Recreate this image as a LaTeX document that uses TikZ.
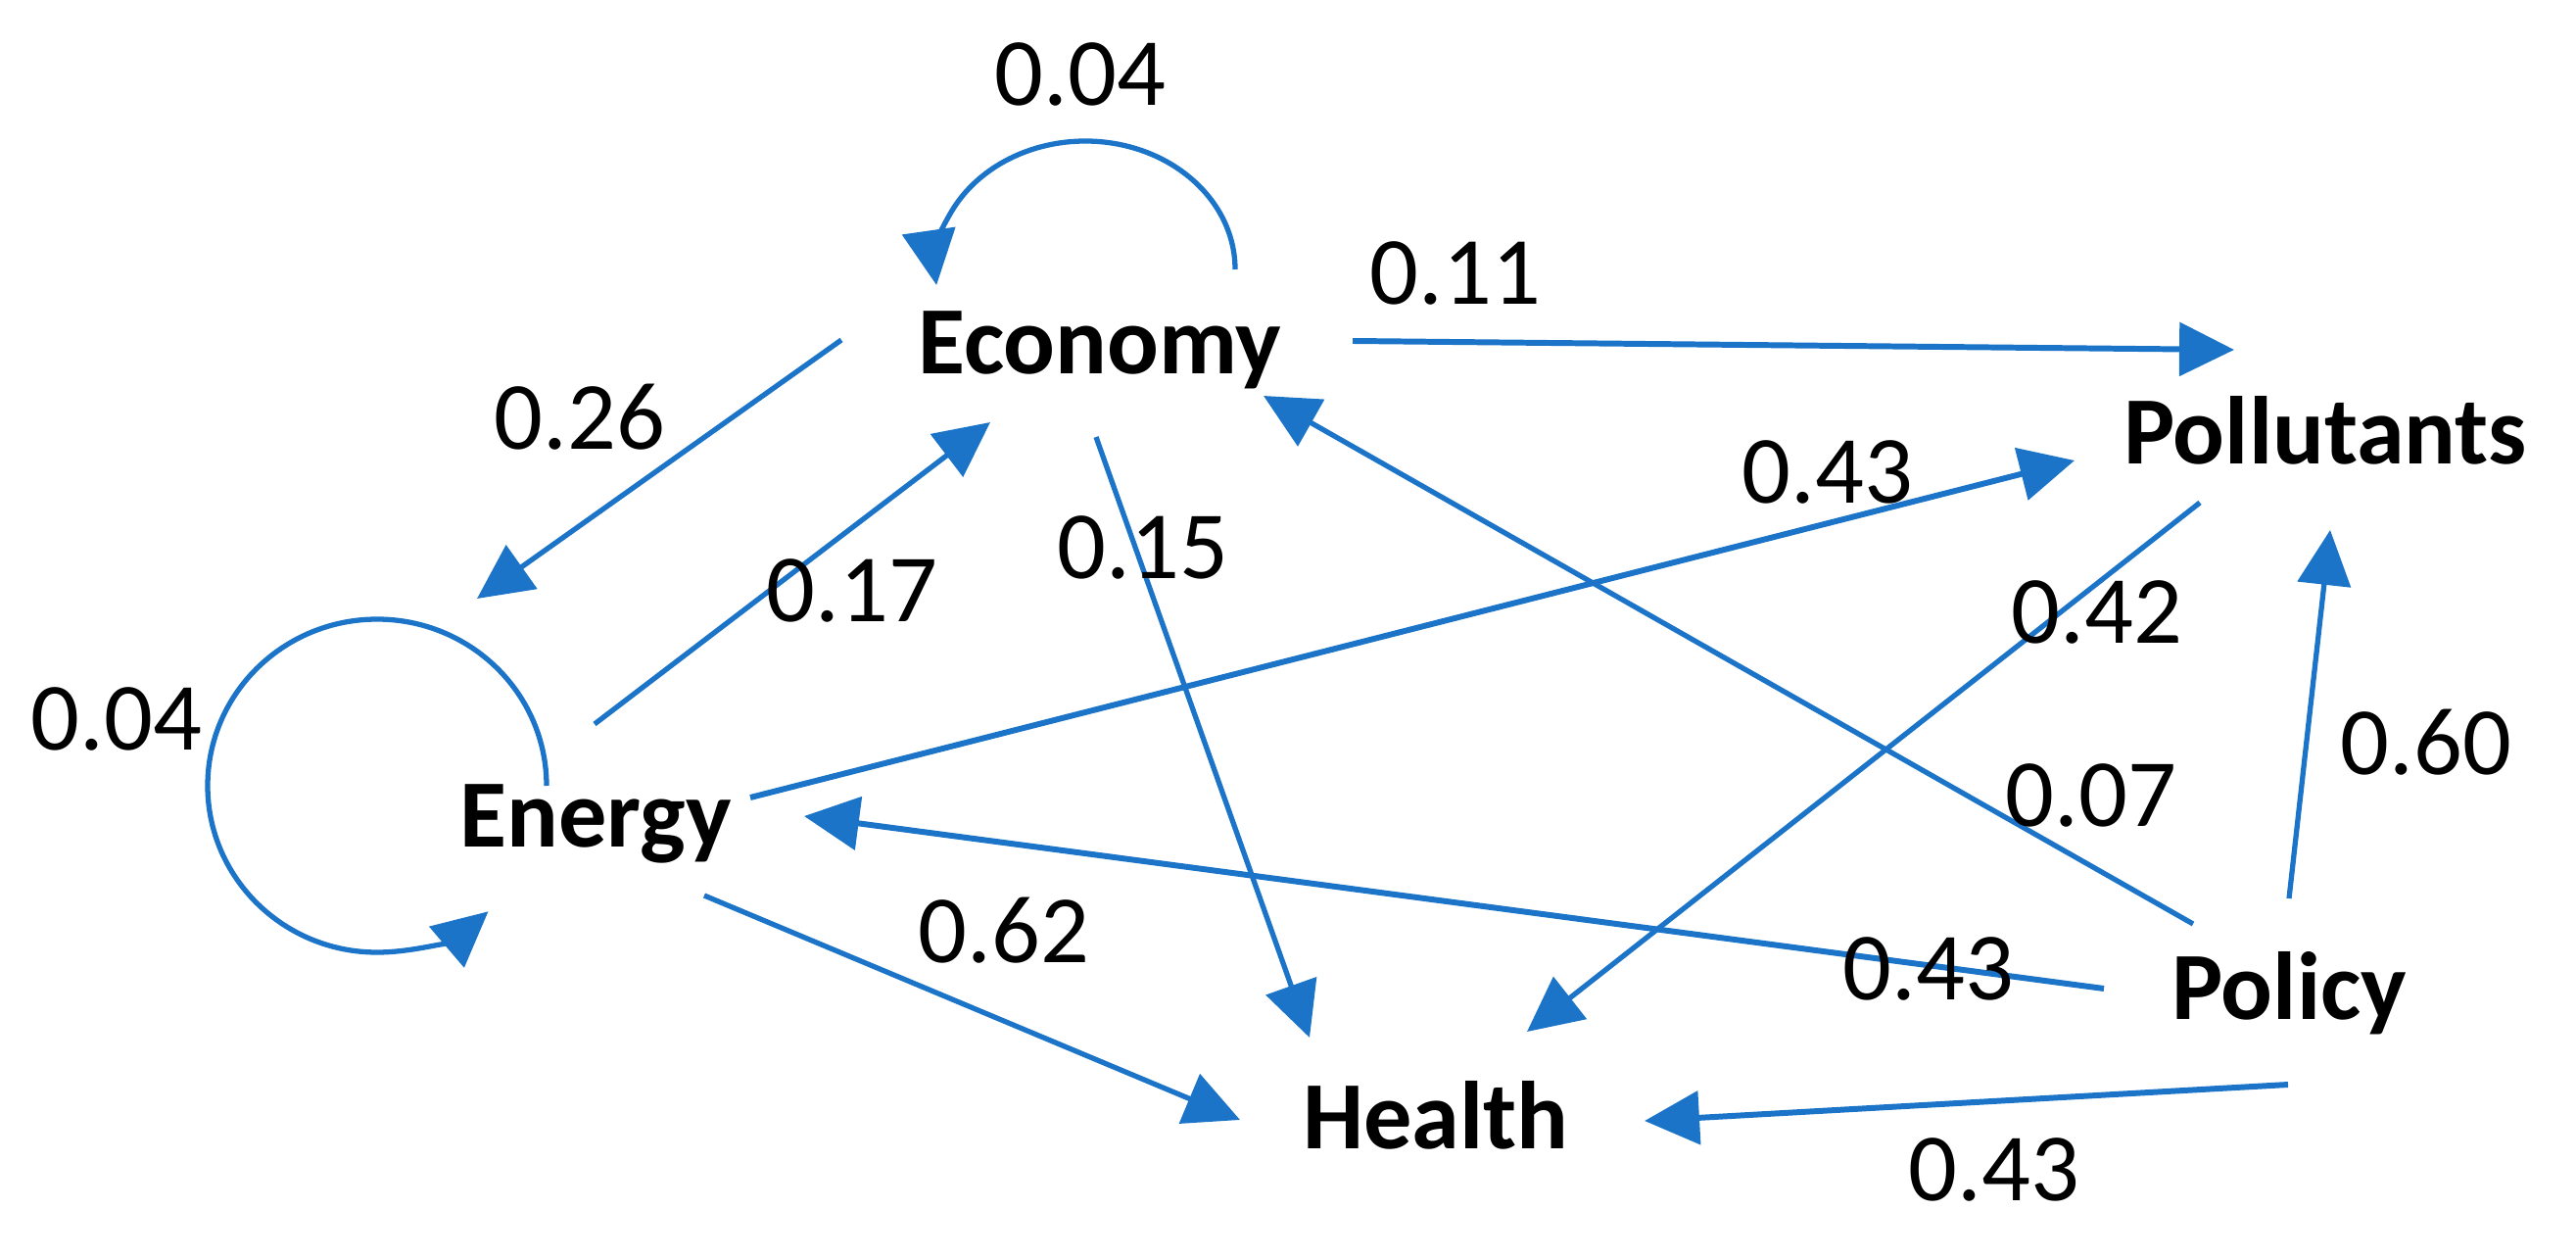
\documentclass[tikz,border=0pt]{standalone}
\usepackage{fontspec}
\setmainfont{Carlito}
\usepackage{xcolor}
\usepackage{tikz}
\usetikzlibrary{arrows.meta}

\definecolor{linkblue}{RGB}{27,116,200}

\tikzset{
  factor/.style={font=\bfseries\fontsize{28}{34}\selectfont, anchor=base, inner sep=0pt},
  coef/.style={font=\fontsize{28}{34}\selectfont, inner sep=0pt},
  link/.style={draw=linkblue, line width=1.5pt, -{Triangle[length=0.56cm,width=0.54cm]}},
  heavylink/.style={link, line width=1.7pt}
}

\begin{document}
\begin{tikzpicture}
                \useasboundingbox (0,0) rectangle (26.30,12.84);

                %% factors
                \node[factor] (eco) at (11.23,9.02) {Economy};
                \node[factor] (pol) at (23.74,8.10) {Pollutants};
                \node[factor] (ene) at (6.08,4.20)  {Energy};
                \node[factor] (hea) at (14.66,1.12) {Health};
                \node[factor] (pcy) at (23.37,2.44) {Policy};

                %Economy
                \draw[link] ([shift={(1.38,1.07)}]eco.base) arc[start angle=0, end angle=187, x radius=1.53cm, y radius=1.31cm];
                \node[coef] (c1) at (11.03,12.08) {0.04};
                \draw[link] ([shift={(-2.64,0.35)}]eco.base) -- ([shift={(-1.21,2.53)}]ene.base);
                \node[coef] (c2) at (5.92,8.58) {0.26};
                \draw[link] ([shift={(-0.04,-0.64)}]eco.base) -- ([shift={(-1.29,1.13)}]hea.base);
                \node[coef] (c3) at (11.67,7.25) {0.15};
                \draw[heavylink] ([shift={(2.58,0.34)}]eco.base) -- ([shift={(-0.93,1.17)}]pol.base);
                \node[coef] (c4) at (14.86,10.05) {0.11};

                %Energy
                \draw[link] ([shift={(-0.50,0.62)}]ene.base) arc[start angle=0, end angle=311, x radius=1.73cm, y radius=1.70cm];
                \node[coef] (c5) at (1.19,5.50) {0.04};
                \draw[link] ([shift={(-0.01,1.25)}]ene.base) -- ([shift={(-1.12,-0.49)}]eco.base);
                \node[coef] (c6) at (8.70,6.81) {0.17};
                \draw[heavylink] ([shift={(1.58,0.50)}]ene.base) -- ([shift={(-2.56,0.04)}]pol.base);
                \node[coef] (c7) at (18.66,8.02) {0.43};
                \draw[link] ([shift={(1.11,-0.50)}]ene.base) -- ([shift={(-2.00,0.29)}]hea.base);
                \node[coef] (c8) at (10.25,3.34) {0.62};

                %Pollutants
                \draw[link] ([shift={(-1.28,-0.39)}]pol.base) -- ([shift={(0.93,1.19)}]hea.base);
                \node[coef] (c9) at (21.41,6.59) {0.42};

                %Policy
                \draw[link] ([shift={(-0.98,0.97)}]pcy.base) -- ([shift={(1.67,-0.22)}]eco.base);
                \node[coef] (c10) at (21.35,4.72) {0.07};
                \draw[link] ([shift={(0,1.23)}]pcy.base) -- ([shift={(0.05,-0.67)}]pol.base);
                \node[coef] (c11) at (24.77,5.26) {0.60};
                \draw[heavylink] ([shift={(-1.89,0.31)}]pcy.base) -- ([shift={(2.13,0.31)}]ene.base);
                \node[coef] (c12) at (19.69,2.95) {0.43};
                \draw[heavylink] ([shift={(-0.01,-0.67)}]pcy.base) -- ([shift={(2.13,0.28)}]hea.base);
                \node[coef] (c13) at (20.36,0.90) {0.43};

            \end{tikzpicture}
\end{document}
